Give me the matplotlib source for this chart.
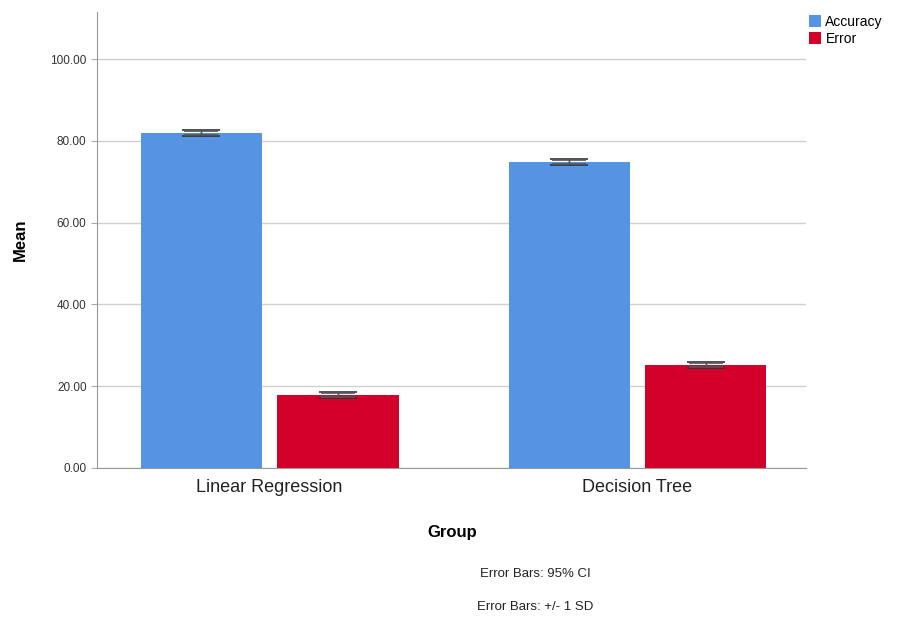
import matplotlib
matplotlib.use("Agg")
import matplotlib.pyplot as plt
import numpy as np
from matplotlib.patches import Patch

plt.rcParams['font.family'] = ['Liberation Sans', 'DejaVu Sans']

groups = ["Linear Regression", "Decision Tree"]
series = ["Accuracy", "Error"]
accuracy = [82.0, 74.8]
error = [17.9, 25.2]
acc_ci = [0.5, 0.5]
err_ci = [0.5, 0.5]
acc_sd = [0.7, 0.7]
err_sd = [0.7, 0.7]
yticks = [0, 20, 40, 60, 80, 100]

colors = ["#5593e3", "#d2002a"]

fig = plt.figure(figsize=(9.02, 6.18), dpi=100)
ax = fig.add_axes([97/902, 1-468/618, 709/902, 456/618])

x = np.arange(len(groups))
w = 0.331
off = 0.185
for vals, ci, sd, o, c in [(accuracy, acc_ci, acc_sd, -off, colors[0]),
                          (error, err_ci, err_sd, off, colors[1])]:
    ax.bar(x + o, vals, width=w, color=c, zorder=2)
    ax.errorbar(x + o, vals, yerr=sd, fmt="none", ecolor="#333333", elinewidth=1,
                capsize=14, capthick=1.2, zorder=3)
    ax.errorbar(x + o, vals, yerr=ci, fmt="none", ecolor="#555555", elinewidth=1,
                capsize=12, capthick=1.2, zorder=3)

ax.set_xlim(-0.469, 1.458)
ax.set_ylim(0, 111.5)
ax.set_yticks(yticks)
ax.set_yticklabels([f"{v:.2f}" for v in yticks], fontsize=8.5, color="#333333")
ax.set_xticks(x)
ax.set_xticklabels(groups, fontsize=13, color="#222222")
ax.tick_params(axis="y", length=4, color="#aaaaaa")
ax.tick_params(axis="x", length=0, pad=8)
ax.yaxis.grid(True, color="#d0d0d0", linewidth=1, zorder=0)
ax.set_axisbelow(True)
for s in ["top", "right"]:
    ax.spines[s].set_visible(False)
for s in ["left", "bottom"]:
    ax.spines[s].set_color("#999999")

ax.set_ylabel("Mean", fontsize=12, fontweight="bold", labelpad=16)
fig.text(452/902, 1-532/618, "Group", fontsize=12, fontweight="bold", ha="center", va="center")
fig.text(535/902, 1-574/618, "Error Bars: 95% CI", fontsize=9.5, ha="center", va="center", color="#222222")
fig.text(535/902, 1-607/618, "Error Bars: +/- 1 SD", fontsize=9.5, ha="center", va="center", color="#222222")

handles = [Patch(facecolor=c, label=s) for c, s in zip(colors, series)]
fig.legend(handles=handles, loc="upper left", bbox_to_anchor=(806/902, 1-12/618),
           frameon=False, fontsize=10, handlelength=0.9, handleheight=0.9,
           handletextpad=0.3, labelspacing=0.2, borderaxespad=0, borderpad=0.2)

fig.savefig("out.png", dpi=100)
